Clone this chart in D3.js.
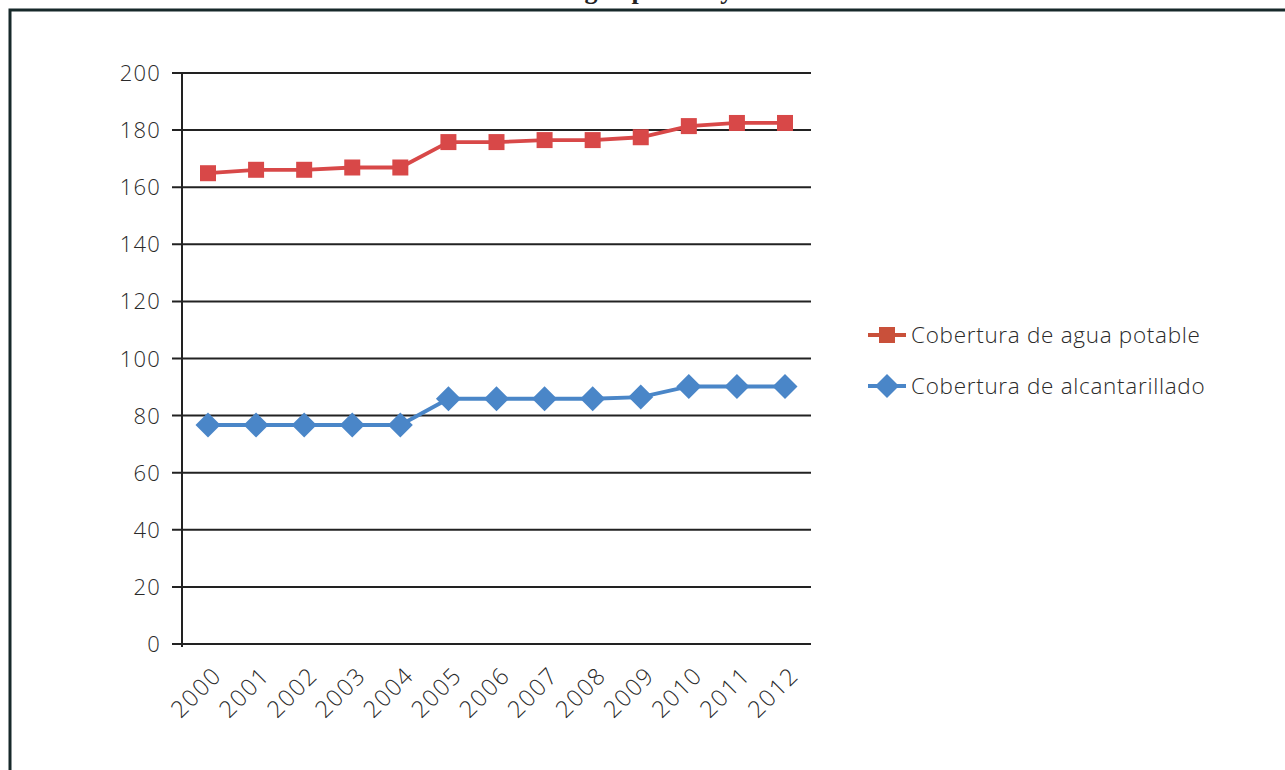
<!DOCTYPE html>
<html>
<head>
<meta charset="utf-8">
<script src="https://cdn.jsdelivr.net/npm/d3@7"></script>
<style>
  html, body { margin: 0; padding: 0; background: #fff; }
  svg { display: block; }
</style>
</head>
<body>
<svg id="chart" width="1285" height="770"></svg>
<script>
const years = ["2000","2001","2002","2003","2004","2005","2006","2007","2008","2009","2010","2011","2012"];
const aguaPotable = [164.9, 166.1, 166.1, 166.9, 166.9, 175.8, 175.8, 176.5, 176.5, 177.5, 181.4, 182.5, 182.5];
const alcantarillado = [76.7, 76.7, 76.7, 76.7, 76.7, 85.9, 85.9, 85.9, 85.9, 86.5, 90.2, 90.2, 90.2];
const yTicks = [0, 20, 40, 60, 80, 100, 120, 140, 160, 180, 200];
const seriesNames = ["Cobertura de agua potable", "Cobertura de alcantarillado"];
const titleText = "Cobertura de agua potable y alcantarillado";

const svg = d3.select("#chart");
const font = "'Open Sans', 'Lato', sans-serif";
const textColor = "#2a2a2a";

// clipped title (only descenders visible) and frame
svg.append("text")
  .attr("x", 655).attr("y", -1)
  .attr("text-anchor", "middle")
  .attr("font-family", "'Liberation Serif', serif")
  .attr("font-weight", "bold")
  .attr("font-size", 26)
  .attr("fill", "#222")
  .text(titleText);

svg.append("path")
  .attr("d", "M10,772 L10,10 L1290,10")
  .attr("fill", "none")
  .attr("stroke", "#17292a")
  .attr("stroke-width", 3);

const y = d3.scaleLinear().domain([0, 200]).range([644, 73]);
const x = d3.scalePoint().domain(years).range([208, 785]);
const plotLeft = 182, plotRight = 811;

// gridlines
const grid = svg.append("g");
grid.selectAll("line").data(yTicks).join("line")
  .attr("x1", plotLeft - 10).attr("x2", plotRight)
  .attr("y1", d => y(d)).attr("y2", d => y(d))
  .attr("stroke", "#222").attr("stroke-width", 2);

// y axis line
svg.append("line")
  .attr("x1", plotLeft).attr("x2", plotLeft)
  .attr("y1", y(200)).attr("y2", y(0) + 3)
  .attr("stroke", "#222").attr("stroke-width", 2);

// y tick labels
svg.append("g").selectAll("text").data(yTicks).join("text")
  .attr("x", 161).attr("y", d => y(d) + 8)
  .attr("text-anchor", "end")
  .attr("font-family", font)
  .attr("font-weight", 300)
  .attr("font-size", 22)
  .attr("letter-spacing", 1.2)
  .attr("fill", textColor)
  .text(d => d);

// x tick labels
svg.append("g").selectAll("text").data(years).join("text")
  .attr("text-anchor", "end")
  .attr("transform", d => `translate(${x(d) + 15},${677}) rotate(-45)`)
  .attr("font-family", font)
  .attr("font-weight", 300)
  .attr("font-size", 23.5)
  .attr("letter-spacing", 1.5)
  .attr("fill", textColor)
  .text(d => d);

const red = "#d84848", blue = "#4a86c8";
const line = d3.line().x((d, i) => x(years[i])).y(d => y(d));

svg.append("path").datum(aguaPotable)
  .attr("d", line).attr("fill", "none")
  .attr("stroke", red).attr("stroke-width", 3.8);
svg.append("path").datum(alcantarillado)
  .attr("d", line).attr("fill", "none")
  .attr("stroke", blue).attr("stroke-width", 3.8);

const sq = 16;
svg.append("g").selectAll("rect").data(aguaPotable).join("rect")
  .attr("x", (d, i) => x(years[i]) - sq / 2)
  .attr("y", d => y(d) - sq / 2)
  .attr("width", sq).attr("height", sq)
  .attr("fill", red);

const dm = 12.5;
const diamond = (cx, cy, r) => `M${cx},${cy - r} L${cx + r},${cy} L${cx},${cy + r} L${cx - r},${cy} Z`;
svg.append("g").selectAll("path").data(alcantarillado).join("path")
  .attr("d", (d, i) => diamond(x(years[i]), y(d), dm))
  .attr("fill", blue);

// legend
const legend = svg.append("g");
const legendItems = [
  { name: seriesNames[0], color: "#c9503a", lineColor: "#c9503a", shape: "square", cy: 335 },
  { name: seriesNames[1], color: blue, lineColor: blue, shape: "diamond", cy: 386 }
];
legendItems.forEach(it => {
  legend.append("line")
    .attr("x1", 868).attr("x2", 906)
    .attr("y1", it.cy).attr("y2", it.cy)
    .attr("stroke", it.lineColor).attr("stroke-width", 3.8);
  if (it.shape === "square") {
    legend.append("rect")
      .attr("x", 887 - 8).attr("y", it.cy - 8)
      .attr("width", 16).attr("height", 16)
      .attr("fill", it.color);
  } else {
    legend.append("path")
      .attr("d", diamond(887, it.cy, 12))
      .attr("fill", it.color);
  }
  legend.append("text")
    .attr("x", 911).attr("y", it.cy + 8)
    .attr("font-family", font)
    .attr("font-weight", 300)
    .attr("font-size", 22.5)
    .attr("letter-spacing", 0.7)
    .attr("fill", textColor)
    .text(it.name);
});
</script>
</body>
</html>
